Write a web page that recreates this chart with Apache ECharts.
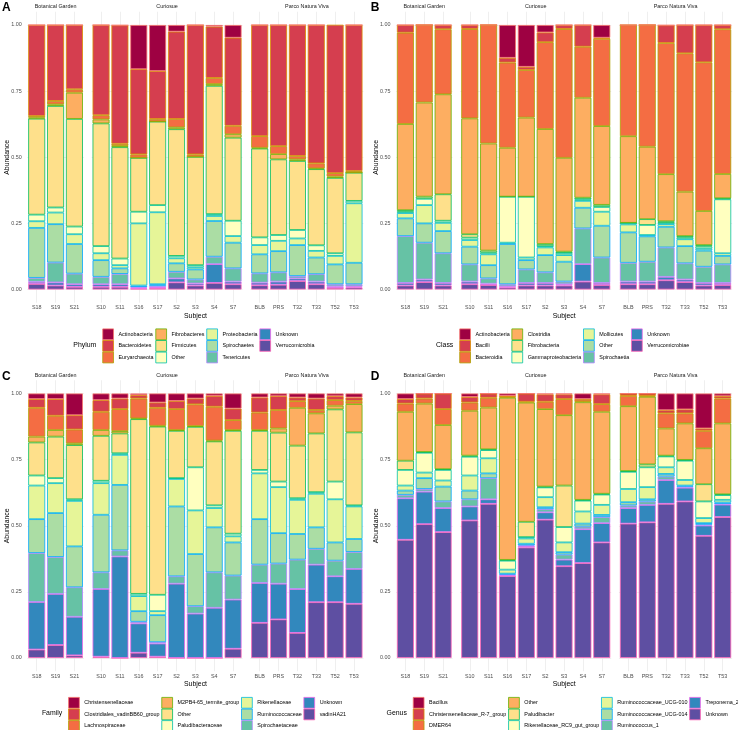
<!DOCTYPE html>
<html><head><meta charset="utf-8">
<script src="https://cdn.jsdelivr.net/npm/echarts@6/dist/echarts.min.js"></script>
<style>html,body{margin:0;padding:0;background:#fff}#c{width:738px;height:730px}</style>
</head><body><div id="c"></div>
<script>
// ---------------- DATA ----------------
const subjectsBG = ['S18','S19','S21'];
const subjectsCU = ['S10','S11','S16','S17','S2','S3','S4','S7'];
const subjectsPNV = ['BLB','PRS','T32','T33','T52','T53'];
const facetNames = ['Botanical Garden','Curiosue','Parco Natura Viva'];
const yTickValues = [0, 0.25, 0.5, 0.75, 1];

// subject order for every row: S18,S19,S21 | S10,S11,S16,S17,S2,S3,S4,S7 | BLB,PRS,T32,T33,T52,T53
const phylumLevels = ['Actinobacteria','Bacteroidetes','Euryarchaeota','Fibrobacteres','Firmicutes','Other','Proteobacteria','Spirochaetes','Tenericutes','Unknown','Verrucomicrobia'];
const phylumValues = [
 [0,0,0, 0,0,.167,.174,.025,0,.006,.048, 0,0,0,0,0,0],
 [.344,.287,.243, .341,.448,.322,.181,.33,.489,.194,.333, .42,.458,.495,.523,.561,.552],
 [.006,.013,.013, .016,.008,.013,.01,.032,.009,.023,.032, .044,.03,.013,.019,.013,.006],
 [.004,.006,.099, .015,.005,0,0,.007,0,.007,.013, .003,.02,.006,.003,.005,0],
 [.363,.384,.407, .464,.421,.204,.316,.479,.41,.485,.314, .336,.286,.261,.288,.285,.107],
 [.025,.019,.029, .027,.025,.044,.027,.009,.008,.007,.058, .029,.022,.032,.021,.01,.009],
 [.025,.044,.037, .026,.012,.235,.272,.019,.008,.019,.025, .035,.039,.025,.025,.032,.225],
 [.189,.145,.112, .063,.021,.005,.006,.032,.038,.135,.097, .072,.08,.117,.063,.075,.081],
 [.015,.075,.04, .028,.039,.003,.005,.025,.015,.028,.05, .035,.035,.009,.028,.008,.008],
 [.008,.012,.01, .01,.01,.003,.004,.015,.008,.071,.01, .01,.012,.01,.01,.006,.004],
 [.021,.015,.01, .01,.01,.004,.005,.027,.015,.025,.02, .016,.018,.032,.02,.006,.008]
];

const classLevels = ['Actinobacteria','Bacilli','Bacteroidia','Clostridia','Fibrobacteria','Gammaproteobacteria','Mollicutes','Other','Spirochaetia','Unknown','Verrucomicrobiae'];
const classValues = [
 [0,0,0, 0,0,.124,.158,.028,0,0,.048, 0,0,0,0,0,0],
 [.029,0,.016, .015,0,.018,.012,.037,.015,.082,.004, 0,0,.067,.107,.141,.016],
 [.345,.293,.246, .338,.448,.322,.18,.328,.487,.193,.33, .42,.46,.496,.523,.562,.547],
 [.326,.356,.378, .438,.405,.185,.299,.435,.355,.378,.298, .3275,.274,.178,.168,.129,.092],
 [.006,.008,.1, .013,.008,0,0,.008,.005,.006,.008, 0,.022,.006,.006,.006,.004],
 [.005,.024,.008, .009,.006,.174,.23,.005,.008,.006,.018, .006,.038,.005,.006,.008,.204],
 [.02,.069,.031, .025,.041,.005,.01,.029,.025,.026,.053, .03,.005,.01,.026,.007,.01],
 [.067,.073,.084, .067,.05,.152,.035,.065,.075,.078,.12, .115,.096,.078,.065,.061,.032],
 [.177,.139,.112, .065,.02,.008,.051,.04,.01,.135,.096, .071,.075,.111,.061,.061,.07],
 [.01,.01,.01, .01,.005,.004,.01,.01,.005,.066,.008, .01,.01,.013,.01,.01,.008],
 [.015,.028,.015, .02,.017,.008,.015,.015,.015,.03,.017, .02,.02,.035,.028,.015,.017]
];

const familyLevels = ['Christensenellaceae','Clostridiales_vadinBB60_group','Lachnospiraceae','M2PB4-65_termite_group','Other','Paludibacteraceae','Rikenellaceae','Ruminococcaceae','Spirochaetaceae','Unknown','vadinHA21'];
const familyValues = [
 [.021,.021,.082, .025,.019,.006,.034,.028,.019,.009,.057, .015,.01,.015,.019,.01,.015],
 [.033,.063,.054, .044,.04,.013,.02,.031,.022,.041,.0435, .057,.052,.014,.043,.015,.013],
 [.109,.054,.0525, .069,.083,.075,.068,.079,.082,.128,.0375, .066,.07,.025,.013,.021,.012],
 [.022,.025,.0065, .022,.009,.003,.003,.003,.003,.003,.003, .003,.016,.143,.076,.014,.107],
 [.125,.157,.205, .17,.075,.6605,.636,.179,.153,.242,.389, .148,.185,.199,.222,.273,.276],
 [.038,.019,.006, .009,.006,.0085,.062,.003,.163,.01,.01, .013,.021,.006,.006,.067,.004],
 [.127,.113,.172, .1195,.1135,.057,.015,.104,.165,.073,.023, .173,.174,.129,.127,.163,.123],
 [.128,.166,.1545, .2175,.2475,.04,.102,.264,.197,.17,.1254, .172,.115,.097,.081,.069,.049],
 [.185,.1395,.1115, .063,.023,.006,.005,.028,.028,.134,.0906, .069,.076,.111,.06,.059,.064],
 [.18,.1935,.146, .256,.384,.111,.05,.281,.168,.19,.186, .151,.135,.166,.142,.098,.132],
 [.032,.049,.01, .005,0,.02,.005,0,0,0,.035, .133,.146,.095,.211,.211,.205]
];

const genusLevels = ['Bacillus','Christensenellaceae_R-7_group','DMER64','Other','Paludibacter','Rikenellaceae_RC9_gut_group','Ruminococcaceae_UCG-010','Ruminococcaceae_UCG-014','Ruminococcus_1','Treponema_2','Unknown'];
const genusValues = [
 [.021,0,0, .013,0,.009,0,.003,.003,.021,.003, 0,0,.063,.06,.132,.01],
 [.017,.019,.059, .021,.016,.004,.031,.028,.018,.008,.037, .009,.009,.012,.015,.009,.009],
 [.031,.019,.06, .031,.037,.003,.003,.028,.061,.004,.029, .039,.003,.057,.038,.066,.094],
 [.185,.183,.167, .17,.158,.613,.451,.293,.266,.369,.31, .245,.256,.103,.138,.136,.268],
 [.035,.003,.003, .004,.003,.003,.058,.003,.157,.003,.003, .003,.011,.003,.003,.065,.003],
 [.059,.075,.04, .071,.031,.034,.005,.037,.058,.041,.039, .065,.075,.041,.073,.063,.018],
 [.019,.021,.023, .057,.057,.015,.02,.038,.037,.046,.038, .05,.046,.025,.021,.019,.01],
 [.016,.041,.056, .033,.018,.003,.006,.007,.009,.011,.008, .012,.008,.01,.004,.006,.005],
 [.013,.01,.025, .027,.08,.003,.003,.012,.019,.01,.023, .01,.013,.013,.004,.003,.003],
 [.157,.123,.091, .053,.017,.003,.005,.028,.025,.128,.073, .059,.066,.09,.052,.039,.047],
 [.447,.506,.476, .52,.583,.31,.418,.523,.347,.359,.437, .508,.513,.583,.592,.462,.533]
];

// ---------------- STYLE ----------------
const spectral = ['#9E0142','#D53E4F','#F46D43','#FDAE61','#FEE08B','#FFFFBF','#E6F598','#ABDDA4','#66C2A5','#3288BD','#5E4FA2'];
const huePal = ['#F8766D','#DB8E00','#AEA200','#64B200','#00BD5C','#00C1A7','#00BADE','#00A6FF','#B385FF','#EF67EB','#FF63B6'];
const FONT = '"Liberation Sans", Arial, sans-serif';
const SMALL = 5.4, TITLE = 6.9;

const facetSubjects = [subjectsBG, subjectsCU, subjectsPNV];
const panels = [
  {letter:'A', title:'Phylum', levels:phylumLevels, values:phylumValues, ox:0, oy:0},
  {letter:'B', title:'Class', levels:classLevels, values:classValues, ox:368.7, oy:0},
  {letter:'C', title:'Family', levels:familyLevels, values:familyValues, ox:0, oy:368.5},
  {letter:'D', title:'Genus', levels:genusLevels, values:genusValues, ox:368.7, oy:368.5}
];

const STEP = 18.86, C0 = 36.7, GAP = 4, TOP = 25, H = 264.5;
const LEG_TOP = 328.5, KEY = 10.8, TXTGAP = 5, COLSP = 2.2, TITLEGAP = 6, LEG_CX = 193.75;

const mctx = document.createElement('canvas').getContext('2d');
function tw(t, size) { mctx.font = size + 'px ' + FONT; return mctx.measureText(t).width; }

const grid = [], xAxis = [], yAxis = [], series = [], legend = [], graphic = [];

panels.forEach((P, pi) => {
  let start = 0, cf = C0;
  facetSubjects.forEach((subs, fi) => {
    const n = subs.length;
    // outer grid: vertical grid lines through the full panel height
    const go = grid.length;
    grid.push({left: P.ox + cf, top: P.oy + TOP - 0.05 * H, width: (n - 1) * STEP, height: 1.1 * H});
    xAxis.push({gridIndex: go, type: 'category', data: subs, boundaryGap: false,
      axisLine: {show: false}, axisTick: {show: false}, axisLabel: {show: false},
      splitLine: {show: true, interval: 0, lineStyle: {color: '#EBEBEB', width: 0.8}}});
    yAxis.push({gridIndex: go, type: 'value', min: 0, max: 1, show: false});
    // inner grid: bars + y scale 0..1
    const gi = grid.length;
    grid.push({left: P.ox + cf - STEP / 2, top: P.oy + TOP, width: n * STEP, height: H});
    xAxis.push({gridIndex: gi, type: 'category', data: subs, boundaryGap: true,
      axisLine: {show: false}, axisTick: {show: false}, splitLine: {show: false},
      axisLabel: {interval: 0, fontSize: SMALL, color: '#4D4D4D', margin: 15.8, fontFamily: FONT}});
    yAxis.push({gridIndex: gi, type: 'value', min: yTickValues[0], max: yTickValues[yTickValues.length - 1], interval: 0.25,
      axisLine: {show: false}, axisTick: {show: false},
      splitLine: {show: true, lineStyle: {color: '#EBEBEB', width: 0.8}},
      axisLabel: {show: fi === 0, formatter: v => v.toFixed(2), fontSize: SMALL, color: '#4D4D4D', margin: 5.5, fontFamily: FONT}});
    for (let k = P.levels.length - 1; k >= 0; k--) {
      series.push({type: 'bar', name: P.letter + '::' + P.levels[k], xAxisIndex: gi, yAxisIndex: gi,
        stack: 'p' + pi + 'f' + fi, barWidth: '90%', silent: true,
        data: P.values[k].slice(start, start + n),
        itemStyle: {color: spectral[k], borderColor: huePal[k], borderWidth: 0.8}});
    }
    // strip label
    graphic.push({type: 'text', x: P.ox + cf + (n - 1) * STEP / 2, y: P.oy + 6.7,
      style: {text: facetNames[fi], align: 'center', verticalAlign: 'middle', fontSize: SMALL, fontFamily: FONT, fill: '#1A1A1A'}});
    start += n;
    cf += (n - 1) * STEP + 1.2 * STEP + GAP;
  });
  // panel letter
  graphic.push({type: 'text', x: P.ox + 2, y: P.oy + 7.8,
    style: {text: P.letter, align: 'left', verticalAlign: 'middle', fontSize: 12, fontWeight: 'bold', fontFamily: FONT, fill: '#000'}});
  // axis titles
  graphic.push({type: 'text', x: P.ox + 195.5, y: P.oy + 315.6,
    style: {text: 'Subject', align: 'center', verticalAlign: 'middle', fontSize: TITLE, fontFamily: FONT, fill: '#000'}});
  graphic.push({type: 'text', x: P.ox + 7, y: P.oy + 157.3, rotation: Math.PI / 2,
    style: {text: 'Abundance', align: 'center', verticalAlign: 'middle', fontSize: TITLE, fontFamily: FONT, fill: '#000'}});
  // legend layout (4 columns x 3 rows, column-major)
  const cols = [P.levels.slice(0, 3), P.levels.slice(3, 6), P.levels.slice(6, 9), P.levels.slice(9)];
  const colW = cols.map(c => KEY + TXTGAP + Math.max(...c.map(t => tw(t, SMALL))));
  const titleW = tw(P.title, TITLE);
  const total = titleW + TITLEGAP + colW.reduce((a, b) => a + b, 0) + COLSP * (cols.length - 1);
  let x = P.ox + LEG_CX - total / 2;
  graphic.push({type: 'text', x: x, y: P.oy + LEG_TOP + KEY * 1.5,
    style: {text: P.title, align: 'left', verticalAlign: 'middle', fontSize: TITLE, fontFamily: FONT, fill: '#000'}});
  x += titleW + TITLEGAP;
  cols.forEach((c, j) => {
    legend.push({orient: 'vertical', left: x, top: P.oy + LEG_TOP, height: 60, padding: 0, itemGap: 0,
      itemWidth: KEY, itemHeight: KEY, icon: 'rect', selectedMode: false,
      data: c.map(t => P.letter + '::' + t),
      formatter: name => name.split('::')[1],
      itemStyle: {borderWidth: 0.8},
      textStyle: {fontSize: SMALL, color: '#000', fontFamily: FONT}});
    x += colW[j] + COLSP;
  });
});

const chart = echarts.init(document.getElementById('c'), null, {renderer: 'canvas'});
chart.setOption({animation: false, backgroundColor: '#fff', grid, xAxis, yAxis, series, legend, graphic});
</script></body></html>
